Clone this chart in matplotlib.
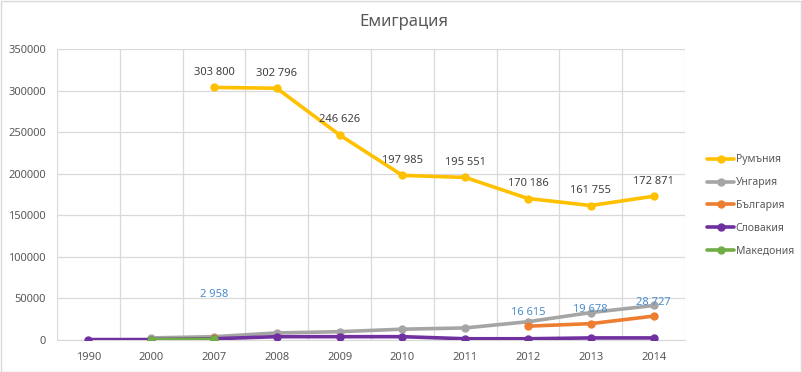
"""
Emigration chart (Excel-style line chart).
"""
import numpy as np
import matplotlib
matplotlib.use("Agg")
import matplotlib.pyplot as plt
from matplotlib.patches import Rectangle

plt.rcParams["font.family"] = ["Noto Sans", "DejaVu Sans"]

years = ["1990", "2000", "2007", "2008", "2009", "2010", "2011", "2012", "2013", "2014"]

# None = no value for that year
romania = [None, None, 303800, 302796, 246626, 197985, 195551, 170186, 161755, 172871]
hungary = [None, 2500, 4000, 8500, 10000, 13000, 14500, 22000, 33000, 41500]
bulgaria = [None, None, 2958, None, None, None, None, 16615, 19678, 28727]
slovakia = [500, 500, 1500, 4000, 4000, 4000, 1500, 1500, 2500, 2500]
macedonia = [None, 500, 800, None, None, None, None, None, None, None]

series_names = ["Румъния", "Унгария", "България", "Словакия", "Македония"]
series_data = [romania, hungary, bulgaria, slovakia, macedonia]
series_colors = ["#FFC000", "#A5A5A5", "#ED7D31", "#7030A0", "#70AD47"]

yticks = np.arange(0, 350001, 50000)


def fmt_space(v):
    return f"{v:,}".replace(",", " ")


fig = plt.figure(figsize=(8.02, 3.72), dpi=100)
ax = fig.add_axes([57 / 802, 32 / 372, 628 / 802, 291 / 372])

x = np.arange(len(years))
handles = []
for name, vals, color in zip(series_names, series_data, series_colors):
    y = np.array([np.nan if v is None else v for v in vals], dtype=float)
    (h,) = ax.plot(x, y, color=color, linewidth=2.6, marker="o", markersize=5,
                   label=name, solid_capstyle="round", zorder=3)
    handles.append(h)

# Romania labels above points
for xi, v in zip(x, romania):
    if v is not None:
        ax.annotate(fmt_space(v), (xi, v), xytext=(0, 7), textcoords="offset points",
                    ha="center", va="bottom", fontsize=8, color="#404040")

# Bulgaria labels (blue, as in the source)
blue_offsets = {2: 27, 7: 6, 8: 6, 9: 6}
for xi, v in zip(x, bulgaria):
    if v is not None:
        ax.annotate(fmt_space(v), (xi, v), xytext=(0, blue_offsets[xi]),
                    textcoords="offset points", ha="center", va="bottom",
                    fontsize=8, color="#4A8CCB", fontweight="medium")

ax.set_xlim(-0.5, len(years) - 0.5)
ax.set_ylim(0, 350000)
ax.set_yticks(yticks)
ax.set_yticklabels([str(t) for t in yticks])
ax.set_xticks(x)
ax.set_xticklabels(years)
ax.set_xticks(np.arange(-0.5, len(years), 1), minor=True)
ax.tick_params(axis="both", which="both", length=0, labelsize=8, labelcolor="#595959")
ax.tick_params(axis="x", pad=9)
ax.tick_params(axis="y", pad=8)

ax.grid(True, axis="y", color="#D9D9D9", linewidth=0.9)
ax.grid(True, axis="x", which="minor", color="#D9D9D9", linewidth=0.9)
ax.grid(False, axis="x", which="major")
ax.set_axisbelow(True)
for side in ["top", "right", "left"]:
    ax.spines[side].set_visible(False)
ax.spines["bottom"].set_color("#D9D9D9")

fig.text(404 / 802, 1 - 22 / 372, "Емиграция", ha="center", va="center",
         fontsize=12, color="#595959")

fig.legend(handles=handles, loc="upper left", bbox_to_anchor=(703 / 802, 1 - 150 / 372),
           frameon=False, fontsize=7.5, labelcolor="#595959", handlelength=2.6,
           handletextpad=0.15, labelspacing=1.15, borderaxespad=0)

fig.patches.append(Rectangle((0.5 / 802, 0.5 / 372), 800.5 / 802, 370.5 / 372,
                             transform=fig.transFigure, fill=False,
                             edgecolor="#D9D9D9", linewidth=1))

fig.savefig("out.png", dpi=100)
